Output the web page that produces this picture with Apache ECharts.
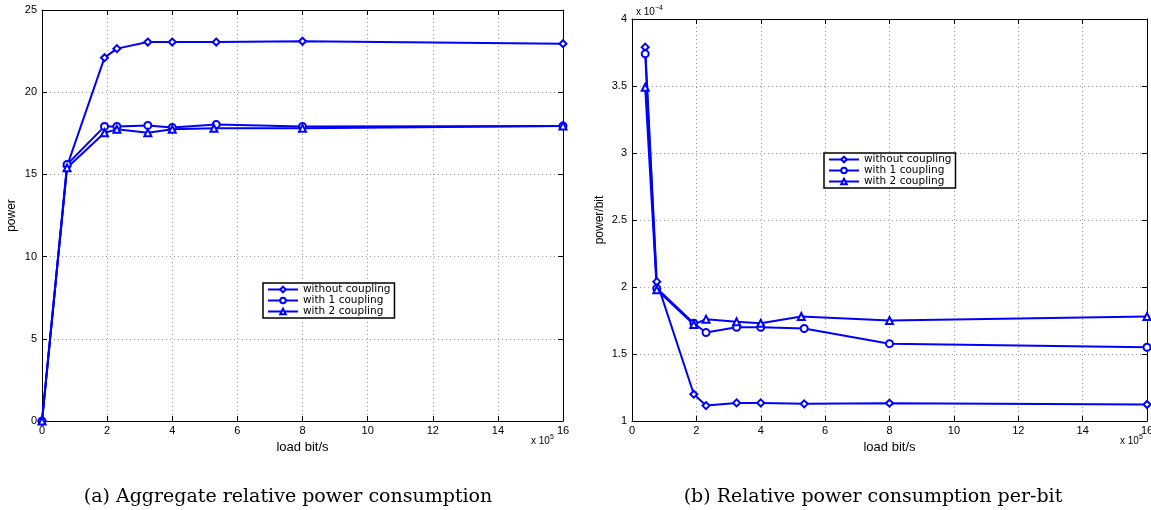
<!DOCTYPE html>
<html>
<head>
<meta charset="utf-8">
<script src="https://cdn.jsdelivr.net/npm/echarts@6/dist/echarts.min.js"></script>
<style>
  html, body { margin: 0; padding: 0; background: #fff; }
  #chart { width: 1151px; height: 510px; }
</style>
</head>
<body>
<div id="chart"></div>
<script>
// load (x 10^5 bit/s)
const loadA = [0, 0.77, 1.92, 2.3, 3.25, 4.0, 5.35, 8.0, 16]
const loadB = [0.41, 0.77, 1.92, 2.3, 3.25, 4.0, 5.35, 8.0, 16]
const loadTriA = [0, 0.77, 1.92, 2.3, 3.25, 4.0, 5.28, 8.0, 16]
const loadTriB = [0.41, 0.77, 1.92, 2.3, 3.25, 4.0, 5.26, 8.0, 16]

const names = ['without coupling', 'with 1 coupling', 'with 2 coupling']

// (a) aggregate power
const powerNone = [0, 15.5, 22.1, 22.65, 23.05, 23.05, 23.05, 23.1, 22.95]
const powerOne = [0, 15.6, 17.92, 17.92, 17.98, 17.85, 18.04, 17.92, 17.95]
const powerTwo = [0, 15.4, 17.53, 17.74, 17.53, 17.74, 17.8, 17.8, 17.95]

// (b) power per bit (x 10^-4)
const perBitNone = [3.79, 2.04, 1.2, 1.115, 1.135, 1.135, 1.128, 1.133, 1.123]
const perBitOne = [3.74, 1.99, 1.73, 1.66, 1.7, 1.7, 1.69, 1.577, 1.55]
const perBitTwo = [3.49, 1.98, 1.72, 1.76, 1.74, 1.73, 1.78, 1.75, 1.78]

const xTicks = { min: 0, max: 16, interval: 2 }
const yTicksA = { min: 0, max: 25, interval: 5 }
const yTicksB = { min: 1, max: 4, interval: 0.5 }

const zip = (xs, ys) => xs.map((x, i) => [x, ys[i]])

const chart = echarts.init(document.getElementById('chart'))

const blue = '#0000ff'
const sans = 'Liberation Sans'
const symbols = ['emptyDiamond', 'emptyCircle', 'emptyTriangle']

const gridLine = { show: true, lineStyle: { color: '#9a9a9a', type: [1, 3], width: 1 } }
const axisLine = { show: true, onZero: false, lineStyle: { color: '#000', width: 1 } }
const tick = { show: true, inside: true, length: 5, lineStyle: { color: '#000' } }
const label = { color: '#000', fontFamily: sans, fontSize: 11 }

function mainX(gridIndex) {
  return {
    type: 'value', gridIndex, ...xTicks, position: 'bottom',
    axisLine, axisTick: tick, splitLine: gridLine,
    axisLabel: { ...label, margin: 4, showMaxLabel: true },
    name: 'load bit/s', nameLocation: 'middle', nameGap: 10,
    nameTextStyle: { color: '#000', fontFamily: sans, fontSize: 13 }
  }
}
function mirrorX(gridIndex) {
  return {
    type: 'value', gridIndex, ...xTicks, position: 'top',
    axisLine, axisTick: tick, splitLine: { show: false }, axisLabel: { show: false }
  }
}
function mainY(gridIndex, t, name, gap) {
  return {
    type: 'value', gridIndex, ...t, position: 'left',
    axisLine, axisTick: tick, splitLine: gridLine,
    axisLabel: { ...label, margin: 5 },
    name, nameLocation: 'middle', nameGap: gap,
    nameTextStyle: { color: '#000', fontFamily: sans, fontSize: 12 }
  }
}
function mirrorY(gridIndex, t) {
  return {
    type: 'value', gridIndex, ...t, position: 'right',
    axisLine, axisTick: tick, splitLine: { show: false }, axisLabel: { show: false }
  }
}

function makeSeries(xAxisIndex, yAxisIndex, data) {
  return data.map((d, i) => ({
    name: names[i], type: 'line', xAxisIndex, yAxisIndex,
    data: d, symbol: symbols[i], symbolSize: 7,
    lineStyle: { color: blue, width: 2 },
    itemStyle: { color: blue, borderColor: blue, borderWidth: 1.5 },
    animation: false
  }))
}

function legendAt(left, top) {
  return {
    data: names, orient: 'vertical', left, top,
    itemWidth: 30, itemHeight: 7, itemGap: 0,
    padding: [1, 4, 1, 4], borderColor: '#000', borderWidth: 1.5,
    backgroundColor: '#fff', selectedMode: false,
    textStyle: { color: '#000', fontFamily: 'DejaVu Sans', fontSize: 10.5, lineHeight: 9 }
  }
}

const supStyle = {
  a: { fontFamily: sans, fontSize: 10, padding: [4, 0, 0, 0] },
  s: { fontFamily: sans, fontSize: 7, padding: [0, 0, 4, 0] }
}

const option = {
  animation: false,
  grid: [
    { left: 42, right: 588, top: 10, bottom: 89, outerBoundsMode: 'none' },
    { left: 632, right: 4, top: 19, bottom: 89, outerBoundsMode: 'none' }
  ],
  xAxis: [mainX(0), mirrorX(0), mainX(1), mirrorX(1)],
  yAxis: [
    mainY(0, yTicksA, 'power', 24), mirrorY(0, yTicksA),
    mainY(1, yTicksB, 'power/bit', 26), mirrorY(1, yTicksB)
  ],
  legend: [legendAt(263, 283), legendAt(824, 153)],
  series: [
    ...makeSeries(0, 0, [zip(loadA, powerNone), zip(loadA, powerOne), zip(loadTriA, powerTwo)]),
    ...makeSeries(2, 2, [zip(loadB, perBitNone), zip(loadB, perBitOne), zip(loadTriB, perBitTwo)])
  ],
  graphic: [
    { type: 'text', left: 531, top: 434, style: { text: '{a|x 10}{s|5}', fill: '#000', rich: supStyle } },
    { type: 'text', left: 1120, top: 434, style: { text: '{a|x 10}{s|5}', fill: '#000', rich: supStyle } },
    { type: 'text', left: 636, top: 5, style: { text: '{a|x 10}{s|−4}', fill: '#000', rich: supStyle } },
    {
      type: 'text', x: 288, y: 497,
      style: {
        text: '(a) Aggregate relative power consumption',
        fill: '#000', font: '19px "DejaVu Serif"', align: 'center', verticalAlign: 'middle'
      }
    },
    {
      type: 'text', x: 873, y: 497,
      style: {
        text: '(b) Relative power consumption per-bit',
        fill: '#000', font: '19px "DejaVu Serif"', align: 'center', verticalAlign: 'middle'
      }
    }
  ]
}

chart.setOption(option)
</script>
</body>
</html>
